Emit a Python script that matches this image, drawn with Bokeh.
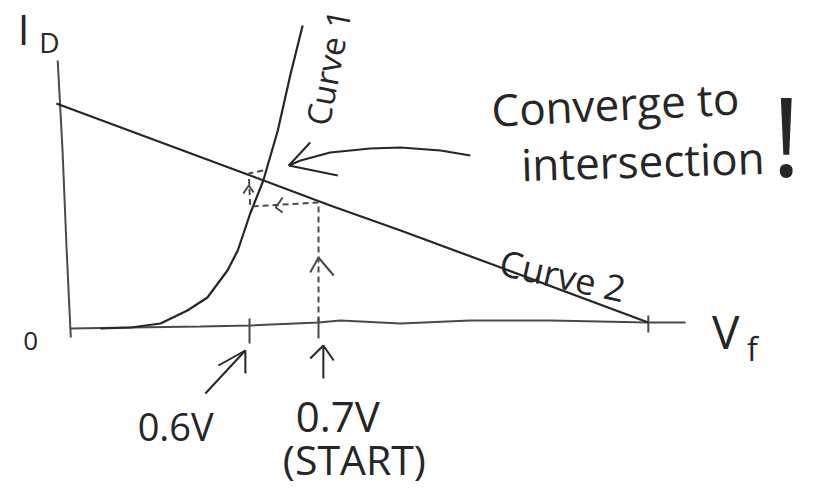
from bokeh.plotting import figure
from bokeh.core.properties import value
from bokeh.embed import file_html
from bokeh.resources import INLINE

# Forward voltage V_f in volts (sketch is not drawn to scale), current I_D in arbitrary units.

# Curve 1: diode exponential characteristic
curve1_v = [0.384, 0.428, 0.471, 0.510, 0.539, 0.568, 0.583, 0.601, 0.620, 0.641, 0.659, 0.677]
curve1_i = [-0.03, -0.02, 0.02, 0.15, 0.28, 0.55, 0.75, 1.12, 1.45, 1.95, 2.50, 3.00]

# Curve 2: load line
curve2_v = [0.320, 0.601, 0.717, 0.819, 0.964, 1.178]
curve2_i = [2.22, 1.50, 1.20, 0.95, 0.58, 0.03]

# Hand-drawn axes
id_axis_v = [0.322, 0.329, 0.335, 0.341]
id_axis_i = [2.65, 1.75, 0.75, -0.12]
vf_axis_v = [0.341, 0.428, 0.529, 0.601, 0.700, 0.732, 0.819, 0.920, 1.036, 1.178, 1.232]
vf_axis_i = [-0.03, -0.02, -0.01, 0.00, 0.03, 0.05, 0.02, 0.05, 0.05, 0.03, 0.03]

# Iteration path: start at 0.7 V, up to curve 2, across to curve 1, up to curve 2 ...
iter_v = [0.700, 0.700, 0.601, 0.599, 0.620]
iter_i = [0.03, 1.23, 1.19, 1.52, 1.55]

# Marked voltages on the V_f axis
tick_v = [0.6, 0.7, curve2_v[-1]]
tick_labels = ["0.6V", "0.7V", "(START)"]

# Arrowheads on the iteration path: tip and two arms
path_heads = [
    ((0.700, 0.68), (0.688, 0.53), (0.722, 0.50)),
    ((0.638, 1.18), (0.648, 1.28), (0.648, 1.13)),
    ((0.599, 1.40), (0.591, 1.32), (0.606, 1.33)),
]

# "Converge to intersection!" arrow
conv_v = [0.920, 0.877, 0.819, 0.775, 0.717, 0.674, 0.657]
conv_i = [1.70, 1.75, 1.78, 1.77, 1.73, 1.65, 1.60]
conv_head = ((0.657, 1.60), (0.688, 1.83), (0.728, 1.50))

# Pointers to the marked voltages: tail, tip, two arms
pointers = [
    ((0.536, -0.68), (0.594, -0.25), (0.555, -0.40), (0.594, -0.48)),
    ((0.707, -0.53), (0.707, -0.20), (0.688, -0.33), (0.722, -0.35)),
]

INK = "#262626"
PENCIL = "#4a4a4a"
FONT = value("Open Sans")

p = figure(width=813, height=489, x_range=(0.2391, 1.4174), y_range=(-1.64, 3.25),
           x_axis_type=None, y_axis_type=None, toolbar_location=None,
           output_backend="svg", min_border=0)
p.grid.visible = False
p.outline_line_color = None
p.background_fill_color = "white"
p.border_fill_color = "white"

# axes
p.line(id_axis_v, id_axis_i, line_color=PENCIL, line_width=2)
p.line(vf_axis_v, vf_axis_i, line_color=PENCIL, line_width=2)

# tick marks
tick_lo = [-0.18, -0.13, -0.07]
tick_hi = [0.07, 0.08, 0.10]
p.segment(x0=tick_v, y0=tick_lo, x1=tick_v, y1=tick_hi, line_color=PENCIL, line_width=2)

# curves
p.line(curve2_v, curve2_i, line_color=INK, line_width=2.2)
p.line(curve1_v, curve1_i, line_color=INK, line_width=2.2)

# iteration path
p.line(iter_v, iter_i, line_color=PENCIL, line_width=2, line_dash="6 4")
hx, hy = [], []
for tip, a, b in path_heads:
    hx.append([a[0], tip[0], b[0]])
    hy.append([a[1], tip[1], b[1]])
p.multi_line(hx, hy, line_color=PENCIL, line_width=2)

# convergence arrow
p.line(conv_v, conv_i, line_color=INK, line_width=2)
tip, a, b = conv_head
p.line([a[0], tip[0], b[0]], [a[1], tip[1], b[1]], line_color=INK, line_width=2)

# pointers below the axis
for tail, tip, a, b in pointers:
    p.line([tail[0], tip[0]], [tail[1], tip[1]], line_color=INK, line_width=2)
    p.line([a[0], tip[0], b[0]], [a[1], tip[1], b[1]], line_color=INK, line_width=2)


def label(x, y, txt, size, angle=0.0):
    p.text(x=[x], y=[y], text=[txt], angle=angle, text_font=FONT,
           text_font_size=f"{size}px", text_color=INK,
           text_align="center", text_baseline="middle")


label(0.2725, 2.97, "I", 42)
label(0.310, 2.84, "D", 28)
label(0.283, -0.15, "0", 26)
label(0.493, -1.00, tick_labels[0], 38)
label(0.728, -0.90, tick_labels[1], 42)
label(0.752, -1.33, tick_labels[2], 41)
label(1.290, -0.05, "V", 46)
label(1.329, -0.23, "f", 32)
label(1.130, 2.22, "Converge to", 44, 0.05)
label(1.170, 1.65, "intersection", 44, 0.03)
label(1.378, 1.92, "!", 110)
label(0.714, 2.58, "Curve 1", 33, 1.38)
label(1.054, 0.50, "Curve 2", 36, -0.22)

open("out.html", "w").write(file_html(p, INLINE))
